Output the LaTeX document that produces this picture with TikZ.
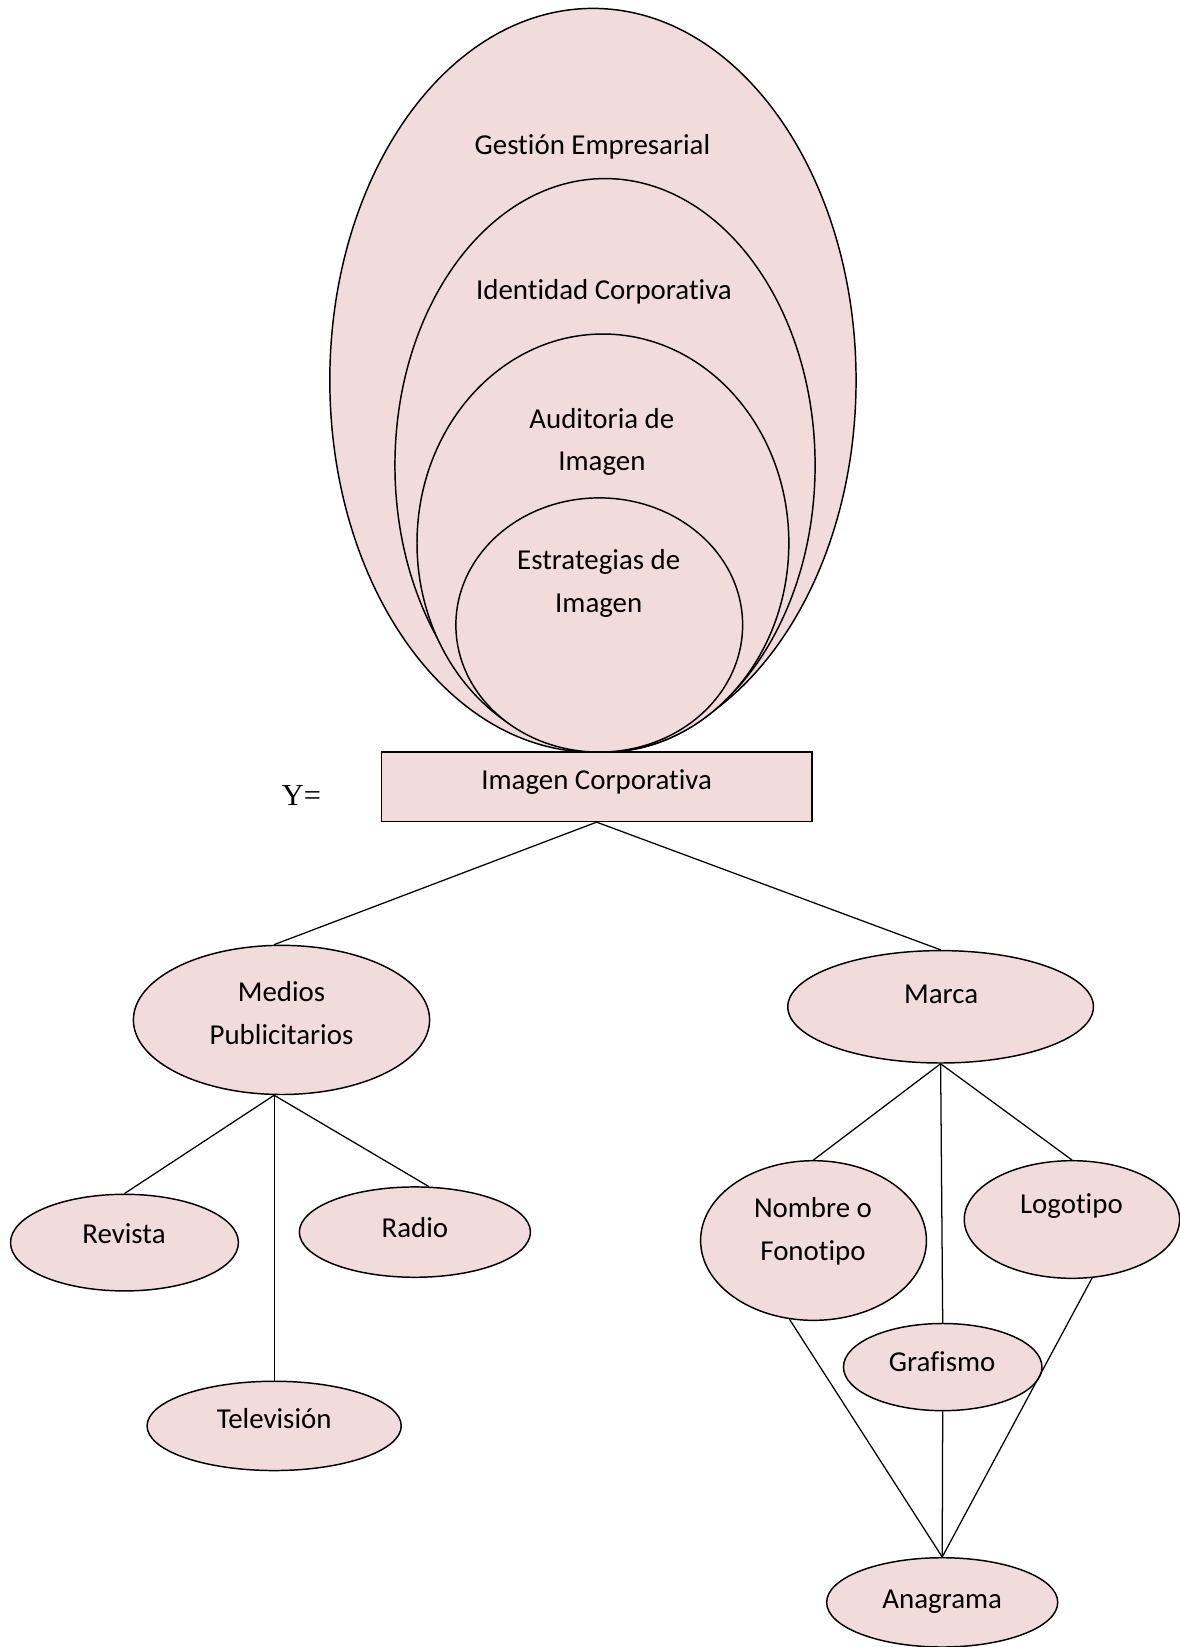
\documentclass[tikz,border=0pt]{standalone}
\usepackage{fontspec}
\setmainfont{Carlito}[Ligatures=NoCommon]
\newfontfamily\serifY{Liberation Serif}
\usetikzlibrary{shapes.geometric}
\definecolor{rosa}{HTML}{F2DCDB}
\begin{document}
\begin{tikzpicture}[x=1pt,y=-1pt,
  blob/.style={ellipse, draw=black, line width=1.4pt, fill=rosa, inner sep=0pt},
  box/.style={rectangle, draw=black, line width=1.4pt, fill=rosa, inner sep=0pt},
  lbl/.style={anchor=base, align=center, inner sep=0pt, font=\fontsize{27.5}{40.5}\selectfont},
  link/.style={draw=black, line width=1.2pt}]
\useasboundingbox[fill=white] (0,0) rectangle (1123,1568);

% nested ellipses (multi-line labels are placed by their last baseline)
\node[blob, minimum width=501pt, minimum height=708pt] (gest) at (564.5,362) {};
\node[blob, minimum width=400pt, minimum height=546pt] (iden) at (576,443) {};
\node[blob, minimum width=354pt, minimum height=398pt] (audit) at (574,517) {};
\node[blob, minimum width=273pt, minimum height=242pt] (estr) at (570.5,595) {};
\node[lbl] (tgest) at (564,147) {Gestión Empresarial};
\node[lbl] (tiden) at (575,285) {Identidad Corporativa};
\node[lbl] (taudit) at (573,448) {Auditoria de\\Imagen};
\node[lbl] (testr) at (570,583) {Estrategias de\\Imagen};

% central box
\node[box, minimum width=410pt, minimum height=66pt] (imagen) at (568,749) {};
\node[lbl] (timagen) at (568,752) {Imagen Corporativa};
\node[anchor=base, inner sep=0pt, font=\serifY\fontsize{29}{34}\selectfont] (yeq) at (287,767) {Y=};

% left branch
\node[blob, minimum width=282pt, minimum height=142pt] (medios) at (268,971) {};
\node[blob, minimum width=217pt, minimum height=92pt] (revista) at (118.5,1183) {};
\node[blob, minimum width=220pt, minimum height=86pt] (radio) at (395,1173) {};
\node[blob, minimum width=242pt, minimum height=85pt] (tele) at (261,1357.5) {};
\node[lbl] (tmedios) at (268,994) {Medios\\Publicitarios};
\node[lbl] (trevista) at (118,1184) {Revista};
\node[lbl] (tradio) at (395,1178) {Radio};
\node[lbl] (ttele) at (261,1360) {Televisión};

% right branch
\node[blob, minimum width=291pt, minimum height=107pt] (marca) at (895.5,958.5) {};
\node[blob, minimum width=215pt, minimum height=152pt] (nombre) at (774.5,1181) {};
\node[blob, minimum width=205pt, minimum height=112pt] (logo) at (1020.5,1161) {};
\node[blob, minimum width=189pt, minimum height=83pt] (graf) at (897.5,1301.5) {};
\node[blob, minimum width=220pt, minimum height=85pt] (ana) at (897,1525.5) {};
\node[lbl] (tmarca) at (896,955) {Marca};
\node[lbl] (tnombre) at (774,1200) {Nombre o\\Fonotipo};
\node[lbl] (tlogo) at (1020,1155) {Logotipo};
\node[lbl] (tgraf) at (897,1306) {Grafismo};
\node[lbl] (tana) at (897,1531) {Anagrama};

% connectors
\coordinate (mfoot) at (medios.south -| tele.north);
\draw[link] (imagen.south) -- (medios.north -| mfoot);
\draw[link] (imagen.south) -- (marca.north);
\draw[link] (mfoot) -- (revista.north);
\draw[link] (mfoot) -- (tele.north);
\draw[link] (mfoot) -- (radio.73);
\draw[link] (marca.south) -- (nombre.north);
\draw[link] (marca.south) -- (graf.north);
\draw[link] (marca.south) -- (logo.north);
\draw[link] (nombre.253) -- (ana.north);
\draw[link] (graf.south) -- (ana.north);
\draw[link] (logo.289) -- (ana.north);
\end{tikzpicture}
\end{document}
